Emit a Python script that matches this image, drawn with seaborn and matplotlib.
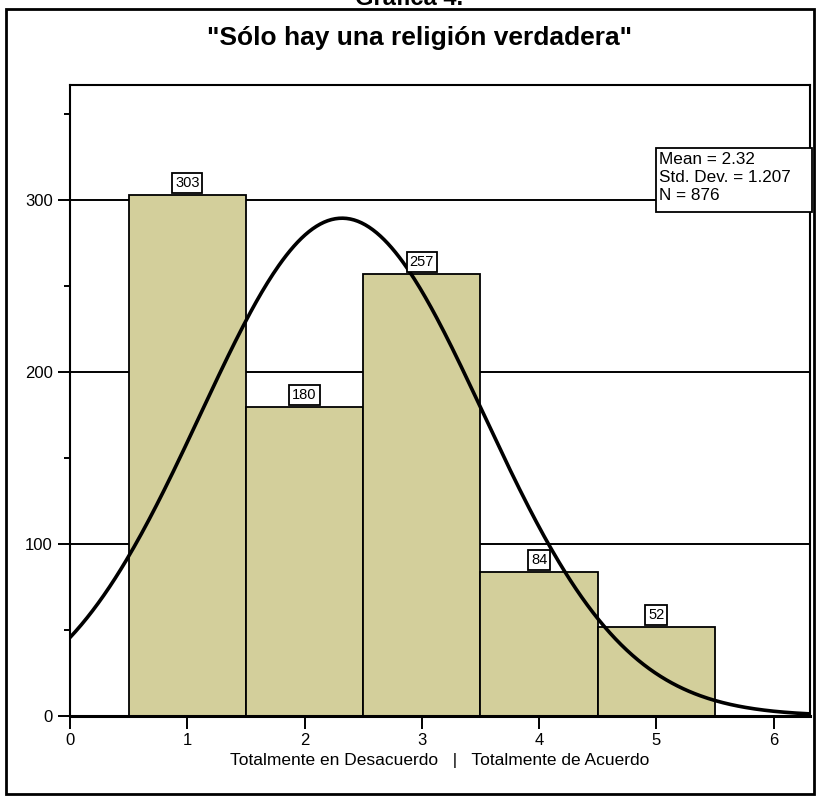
import numpy as np
import matplotlib
matplotlib.use('Agg')
import matplotlib.pyplot as plt
import seaborn as sns
from matplotlib.patches import Rectangle

# Data
categories = [1, 2, 3, 4, 5]
counts = [303, 180, 257, 84, 52]
mean_val = 2.32
std_val = 1.207
n_total = 876
title = '"Sólo hay una religión verdadera"'
xlabel = 'Totalmente en Desacuerdo   |   Totalmente de Acuerdo'
y_major = [0, 100, 200, 300]
y_minor = [50, 150, 250, 350]
x_ticks = [0, 1, 2, 3, 4, 5, 6]

sns.set_style('white')
plt.rcParams['font.family'] = ['Liberation Sans', 'DejaVu Sans']
plt.rcParams['text.color'] = 'black'
plt.rcParams['xtick.color'] = 'black'
plt.rcParams['ytick.color'] = 'black'
plt.rcParams['axes.labelcolor'] = 'black'

fig = plt.figure(figsize=(8.18, 7.96), dpi=100)
ax = fig.add_axes([70 / 818, 1 - 716 / 796, 740 / 818, (716 - 85) / 796])

bar_color = '#d3cf9b'
sns.histplot(x=categories, weights=counts, discrete=True, color=bar_color,
             edgecolor='black', linewidth=1.3, alpha=1, ax=ax, zorder=2)

# fitted normal curve (bin width 1)
xs = np.linspace(0, 6.4, 400)
ys = n_total / (std_val * np.sqrt(2 * np.pi)) * np.exp(-(xs - mean_val) ** 2 / (2 * std_val ** 2))
sns.lineplot(x=xs, y=ys, color='black', linewidth=2.6, ax=ax, zorder=4)

# value labels in boxes
for c, v in zip(categories, counts):
    ax.annotate(str(v), (c, v), xytext=(0, 3.5), textcoords='offset points',
                ha='center', va='bottom', fontsize=10.5, zorder=6,
                bbox=dict(boxstyle='square,pad=0.2', fc='white', ec='black', lw=1.3))

ax.set_xlim(0, 6.31)
ax.set_ylim(0, 367)
ax.set_yticks(y_major)
ax.set_yticks(y_minor, minor=True)
ax.set_xticks(x_ticks)
ax.tick_params(axis='both', which='major', direction='out', length=9, width=1.4,
               labelsize=12, color='black', left=True, bottom=True)
ax.tick_params(axis='y', which='minor', direction='out', length=4.5, width=1.4, left=True)
for yv in y_major[1:]:
    ax.axhline(yv, color='black', lw=1.4, zorder=1)
ax.set_xlabel(xlabel, fontsize=12.5, labelpad=3)
ax.set_ylabel('')
for s in ax.spines.values():
    s.set_color('black')
    s.set_linewidth(1.5)
    s.set_visible(True)
ax.spines['bottom'].set_linewidth(2.2)

# stats box
box = Rectangle((656 / 818, 1 - 212 / 796), 156 / 818, 64 / 796, transform=fig.transFigure,
                fc='white', ec='black', lw=1.3, zorder=7)
fig.patches.append(box)
stats = [f'Mean = {mean_val}', f'Std. Dev. = {std_val}', f'N = {n_total}']
for i, line in enumerate(stats):
    fig.text(659 / 818, 1 - (160 + 17.5 * i) / 796, line, ha='left', va='center',
             fontsize=12.3, zorder=8)

fig.text(0.513, 1 - 38 / 796, title, ha='center', va='center', fontsize=19, fontweight='bold')
fig.text(0.5, 1 - 5 / 796, 'Gráfica 4.', ha='center', va='baseline', fontsize=17, fontweight='bold')

fig.patches.append(Rectangle((6 / 818, 2 / 796), 808 / 818, 785 / 796, transform=fig.transFigure,
                             fill=False, ec='black', lw=2))

fig.savefig('out.png', dpi=100)
